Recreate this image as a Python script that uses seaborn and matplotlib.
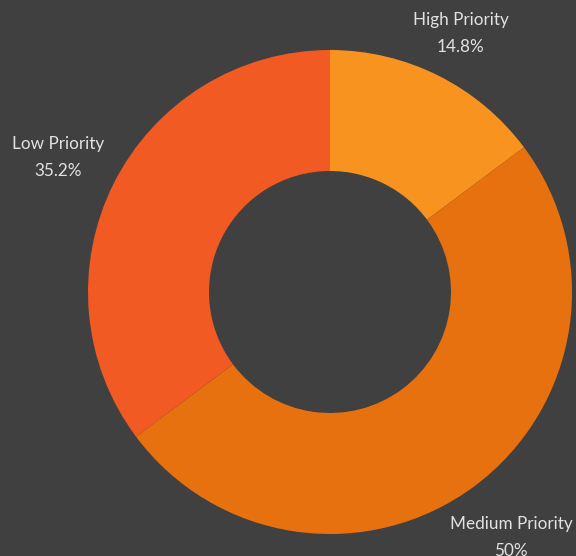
import matplotlib
matplotlib.use("Agg")
import matplotlib.pyplot as plt
import seaborn as sns
import numpy as np

categories = ["High Priority", "Medium Priority", "Low Priority"]
shares = [14.8, 50, 35.2]
share_labels = ["14.8%", "50%", "35.2%"]
colors = ["#F7931E", "#E8710F", "#F15A22"]

bg = "#404041"
sns.set_theme(style="white", rc={"figure.facecolor": bg, "axes.facecolor": bg})
plt.rcParams["font.family"] = ["Lato", "DejaVu Sans"]

W, H = 576, 556
fig = plt.figure(figsize=(W / 100, H / 100), dpi=100)
cx, cy, R = 330, 292, 242
ax = fig.add_axes([(cx - R) / W, (H - cy - R) / H, 2 * R / W, 2 * R / H])
ax.set_facecolor(bg)

wedges, _ = ax.pie(
    shares,
    colors=colors,
    startangle=90,
    counterclock=False,
    radius=1.0,
    wedgeprops=dict(width=0.5, edgecolor="none"),
)

# outer labels placed along each slice's mid-angle
label_dist = [1.205, 1.252, 1.257]
for w, name, lab, d in zip(wedges, categories, share_labels, label_dist):
    mid = np.deg2rad((w.theta1 + w.theta2) / 2)
    ax.annotate(f"{name}\n{lab}", (d * np.cos(mid), d * np.sin(mid)),
                xytext=(0, -1.6), textcoords="offset points",
                ha="center", va="center", color="#E2E2E2", fontsize=12.3,
                linespacing=1.85, annotation_clip=False)

ax.set_xlim(-1, 1)
ax.set_ylim(-1, 1)
ax.set_aspect("equal")
ax.axis("off")

fig.savefig("out.png", dpi=100, facecolor=bg)
